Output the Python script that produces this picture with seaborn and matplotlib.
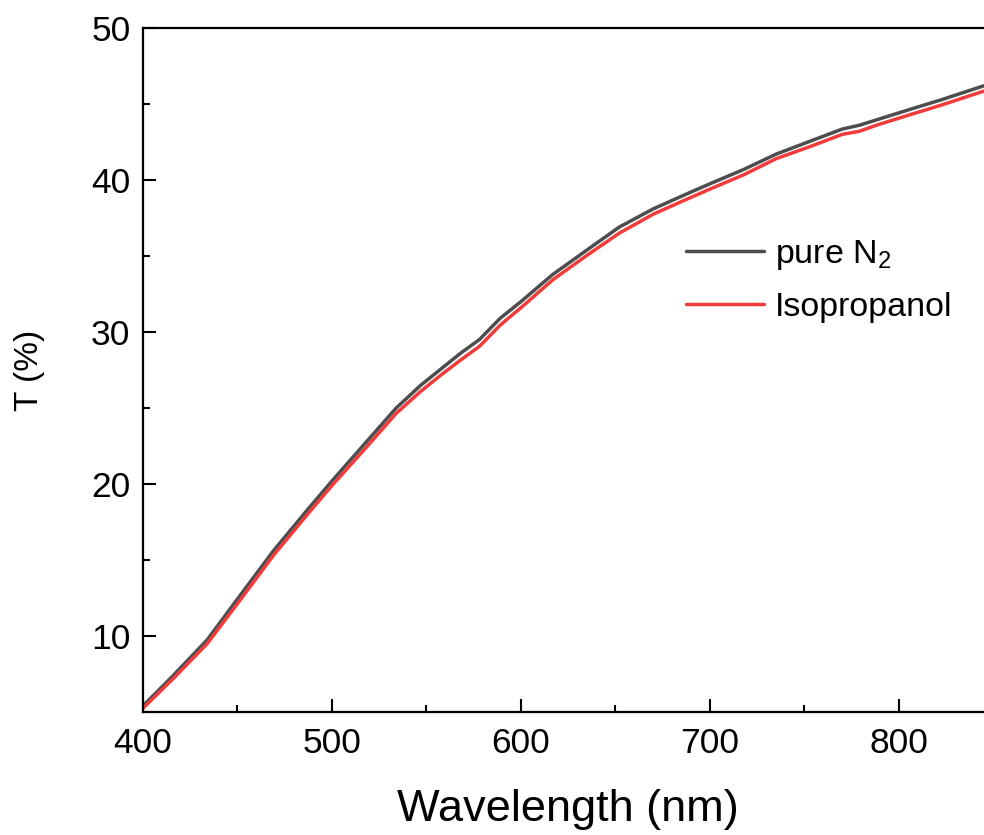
import matplotlib
matplotlib.use("Agg")
import matplotlib.pyplot as plt
import seaborn as sns
import pandas as pd
import numpy as np
from matplotlib.ticker import MultipleLocator

# transmittance spectra
wavelength = [400, 416, 434, 451, 469, 487, 500, 517, 534, 547, 558, 568, 578, 589,
              600, 617, 635, 652, 670, 688, 700, 718, 735, 753, 770, 779, 788,
              806, 823, 845]
t_n2 = [5.4, 7.4, 9.75, 12.6, 15.6, 18.3, 20.2, 22.6, 25.0, 26.5, 27.6, 28.6, 29.5, 30.9,
        32.0, 33.8, 35.4, 36.9, 38.1, 39.1, 39.75, 40.7, 41.7, 42.55, 43.35, 43.6, 43.95,
        44.65, 45.3, 46.2]
t_ipa = [5.25, 7.2, 9.5, 12.3, 15.3, 18.0, 19.9, 22.25, 24.65, 26.1, 27.2, 28.15, 29.05, 30.45,
         31.6, 33.45, 35.05, 36.5, 37.75, 38.75, 39.4, 40.35, 41.4, 42.2, 43.0, 43.2, 43.6,
         44.3, 44.95, 45.85]
labels = ["pure N$_2$", "Isopropanol"]
colors = ["#4d4d4d", "#f23c3c"]

df = pd.DataFrame({
    "Wavelength": wavelength * 2,
    "T": t_n2 + t_ipa,
    "sample": [labels[0]] * len(wavelength) + [labels[1]] * len(wavelength),
})

sns.set_theme(style="ticks")
plt.rcParams["font.family"] = ["Liberation Sans", "DejaVu Sans"]
plt.rcParams["mathtext.default"] = "regular"
plt.rcParams["text.color"] = "black"
plt.rcParams["axes.labelcolor"] = "black"

fig = plt.figure(figsize=(9.84, 8.35), dpi=100)
ax = fig.add_axes([0.1453, 0.1473, 0.8643, 0.8192])

sns.lineplot(data=df, x="Wavelength", y="T", hue="sample", palette=colors,
             linewidth=2.5, ax=ax, sort=False)

ax.set_xlim(400, 850)
ax.set_ylim(5, 50)
ax.xaxis.set_major_locator(MultipleLocator(100))
ax.xaxis.set_minor_locator(MultipleLocator(50))
ax.yaxis.set_major_locator(MultipleLocator(10))
ax.yaxis.set_minor_locator(MultipleLocator(5))
ax.tick_params(which="both", direction="in", width=1.5, colors="black",
               labelsize=25.5, top=False, right=False)
ax.tick_params(which="major", length=9.4)
ax.tick_params(which="minor", length=5)
ax.tick_params(axis="x", pad=11)
ax.tick_params(axis="y", pad=9)
for s in ax.spines.values():
    s.set_linewidth(1.6)
    s.set_color("black")

ax.set_xlabel("Wavelength (nm)", fontsize=32.5, labelpad=21)
ax.set_ylabel("T (%)", fontsize=24, labelpad=33)

leg = ax.legend(loc="center left", bbox_to_anchor=(0.680, 0.664),
                bbox_transform=fig.transFigure, frameon=False, fontsize=24.5,
                handlelength=2.3, handletextpad=0.3, labelspacing=0.58, borderpad=0)
for h in leg.get_lines():
    h.set_linewidth(2.5)

fig.savefig("out.png", dpi=100)
